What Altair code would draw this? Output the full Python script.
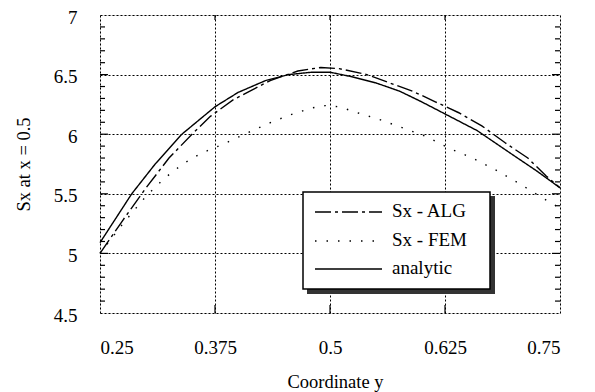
import altair as alt
import pandas as pd

# ---- data ----
analytic_y = [0.25, 0.2845, 0.31, 0.339, 0.375, 0.40, 0.43, 0.455, 0.48, 0.50, 0.525, 0.55, 0.576, 0.60, 0.625, 0.66, 0.70, 0.725, 0.75]
analytic_s = [5.09, 5.50, 5.75, 6.00, 6.23, 6.35, 6.45, 6.50, 6.52, 6.52, 6.48, 6.43, 6.36, 6.27, 6.17, 6.03, 5.82, 5.69, 5.55]

alg_y = [0.25, 0.275, 0.30, 0.325, 0.35, 0.37, 0.395, 0.415, 0.435, 0.465, 0.49, 0.51, 0.54, 0.565, 0.59, 0.615, 0.64, 0.665, 0.69, 0.715, 0.735, 0.75]
alg_s = [5.00, 5.28, 5.55, 5.80, 6.00, 6.15, 6.29, 6.37, 6.45, 6.53, 6.56, 6.55, 6.50, 6.43, 6.36, 6.27, 6.18, 6.07, 5.93, 5.80, 5.65, 5.55]

fem_y = [0.25, 0.275, 0.30, 0.32, 0.34, 0.36, 0.385, 0.41, 0.433, 0.456, 0.48, 0.495, 0.51, 0.53, 0.555, 0.58, 0.605, 0.63, 0.655, 0.68, 0.705, 0.73, 0.75]
fem_s = [5.00, 5.25, 5.48, 5.63, 5.75, 5.84, 5.92, 6.01, 6.09, 6.16, 6.22, 6.24, 6.23, 6.18, 6.12, 6.05, 5.98, 5.88, 5.80, 5.70, 5.59, 5.47, 5.38]

x_ticks = [0.25, 0.375, 0.5, 0.625, 0.75]
y_ticks = [4.5, 5, 5.5, 6, 6.5, 7]
y_minor = [4.6, 4.7, 4.8, 4.9, 5.1, 5.2, 5.3, 5.4, 5.6, 5.7, 5.8, 5.9,
           6.1, 6.2, 6.3, 6.4, 6.6, 6.7, 6.8, 6.9]
x_inner = [0.375, 0.5, 0.625]

series_names = ["Sx - ALG", "Sx - FEM", "analytic"]

FONT = "Liberation Serif, Times New Roman, Times, serif"

rows = []
for yy, ss in zip(alg_y, alg_s):
    rows.append({"y": yy, "s": ss, "series": "Sx - ALG"})
for yy, ss in zip(fem_y, fem_s):
    rows.append({"y": yy, "s": ss, "series": "Sx - FEM"})
for yy, ss in zip(analytic_y, analytic_s):
    rows.append({"y": yy, "s": ss, "series": "analytic"})
df = pd.DataFrame(rows)

xscale = alt.Scale(domain=[0.25, 0.75], nice=False, zero=False)
yscale = alt.Scale(domain=[4.5, 7], nice=False, zero=False)

dash_map = {"Sx - ALG": [16, 4, 3, 4], "Sx - FEM": [1.5, 10], "analytic": [1, 0]}

lines = alt.Chart(df).mark_line(color="black", strokeWidth=1.4).encode(
    x=alt.X("y:Q", scale=xscale,
            axis=alt.Axis(values=x_ticks, title="Coordinate y", grid=True,
                          gridDash=[2, 2], gridColor="black", gridWidth=1, gridOpacity=1,
                          ticks=False, domain=False, labelPadding=25,
                          labelFont=FONT, labelFontSize=19, labelColor="black",
                          labelExpr="'' + datum.value",
                          titleFont=FONT, titleFontSize=18.5, titleFontWeight="normal",
                          titleColor="black", titleY=74, titleX=235,
                          titleBaseline="alphabetic")),
    y=alt.Y("s:Q", scale=yscale,
            axis=alt.Axis(values=y_ticks, title="Sx at x = 0.5", grid=True,
                          gridDash=[2, 2], gridColor="black", gridWidth=1, gridOpacity=1,
                          ticks=False, domain=False, labelPadding=23, labelOffset=2,
                          labelFont=FONT, labelFontSize=19, labelColor="black",
                          labelExpr="'' + datum.value",
                          titleFont=FONT, titleFontSize=18.5, titleFontWeight="normal",
                          titleColor="black", titleX=-77, titleBaseline="middle")),
    strokeDash=alt.StrokeDash("series:N",
                              scale=alt.Scale(domain=series_names,
                                              range=[dash_map[n] for n in series_names]),
                              legend=None),
    detail="series:N",
)

# inward minor/major ticks
ydf_minor = pd.DataFrame({"v": y_minor})
ydf_major = pd.DataFrame({"v": y_ticks[1:-1]})
xdf_inner = pd.DataFrame({"v": x_inner})

def yrule(d, x0, x1):
    return alt.Chart(d).mark_rule(color="black", strokeWidth=1.2).encode(
        y=alt.Y("v:Q", scale=yscale), x=alt.value(x0), x2=alt.value(x1))

def xrule(d, y0, y1):
    return alt.Chart(d).mark_rule(color="black", strokeWidth=1.2).encode(
        x=alt.X("v:Q", scale=xscale), y=alt.value(y0), y2=alt.value(y1))

ticks = [
    yrule(ydf_minor, 0, 5), yrule(ydf_minor, 460, 455),
    yrule(ydf_major, 0, 8), yrule(ydf_major, 460, 452),
    xrule(xdf_inner, 298, 290), xrule(xdf_inner, 0, 5),
]

# legend box (hand-drawn, like the reference)
shadow = alt.Chart(pd.DataFrame({"a": [0]})).mark_rect(color="#333333").encode(
    x=alt.value(207), x2=alt.value(395), y=alt.value(181), y2=alt.value(279))
box = alt.Chart(pd.DataFrame({"a": [0]})).mark_rect(
    fill="white", stroke="black", strokeWidth=1.5).encode(
    x=alt.value(203), x2=alt.value(390), y=alt.value(177), y2=alt.value(274))

leg_rows = [197, 226, 254]
leg_layers = []
for name, ry in zip(series_names, leg_rows):
    leg_layers.append(
        alt.Chart(pd.DataFrame({"a": [0]})).mark_rule(
            color="black", strokeWidth=1.3, strokeDash=dash_map[name]).encode(
            x=alt.value(215), x2=alt.value(282), y=alt.value(ry))
    )
    leg_layers.append(
        alt.Chart(pd.DataFrame({"label": [name]})).mark_text(
            font=FONT, fontSize=19, align="left", baseline="middle", color="black").encode(
            x=alt.value(292), y=alt.value(ry - 1), text="label:N")
    )

chart = alt.layer(lines, *ticks, shadow, box, *leg_layers).properties(
    width=460, height=298,
    autosize=alt.AutoSizeParams(type="none"),
    padding={"left": 92, "top": 7, "right": 20, "bottom": 79},
).configure_view(stroke="black", strokeWidth=1.5).configure(background="white")

chart.save("out.html", embed_options={"renderer": "svg", "actions": False})
